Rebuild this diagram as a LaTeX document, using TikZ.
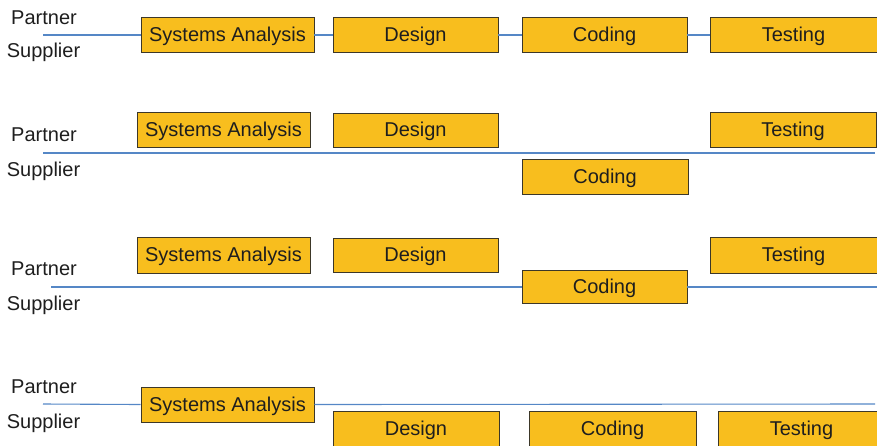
\documentclass[tikz,border=0pt]{standalone}
\usepackage{fontspec}
\setmainfont{Liberation Sans}
\definecolor{phase}{RGB}{248,190,30}
\definecolor{phaseedge}{RGB}{60,55,40}
\definecolor{wire}{RGB}{85,135,198}
\definecolor{ink}{RGB}{30,30,30}
\begin{document}
\begin{tikzpicture}[x=1pt,y=-1pt,
  phasebox/.style={draw=phaseedge,line width=0.9pt,fill=phase,text=ink,inner sep=0pt,
    minimum height=35pt,text height=17.4pt,text depth=4pt,font=\fontsize{20}{24}\selectfont},
  lane/.style={text=ink,inner sep=0pt,anchor=base,font=\fontsize{20}{24}\selectfont},
  link/.style={draw=wire,line width=1.1pt}]
\useasboundingbox (0,0) rectangle (877,445);

% lane labels, placed on their baselines
\foreach \r/\py/\sy in {1/24.3/57.3, 2/141.5/176, 3/275.8/310.5, 4/393.3/428}{
  \node[lane] (partner\r) at (44,\py) {Partner};
  \node[lane] (supplier\r) at (43.5,\sy) {Supplier};
}

% --- row 1: every phase on the partner/supplier boundary
\coordinate (s1) at (43,35);
\node[phasebox,minimum width=173pt] (sa1) at (227.5,35) {Systems Analysis};
\node[phasebox,minimum width=165pt] (de1) at (415.5,35) {Design};
\node[phasebox,minimum width=165pt] (co1) at (604.5,35) {Coding};
\node[phasebox,minimum width=167pt] (te1) at (793.5,35) {Testing};
\draw[link] (s1) -- (sa1.west);
\draw[link] (sa1.east) -- (de1.west);
\draw[link] (de1.east) -- (co1.west);
\draw[link] (co1.east) -- (te1.west);

% --- row 2: coding done by the supplier
\coordinate (s2) at (43,153);
\coordinate (e2) at (875,153);
\draw[link] (s2) -- (e2);
\node[phasebox,minimum width=173pt] (sa2) at (223.5,130) {Systems Analysis};
\node[phasebox,minimum width=165pt,minimum height=34pt] (de2) at (415.5,130) {Design};
\node[phasebox,minimum width=166pt] (te2) at (793,130) {Testing};
\node[phasebox,minimum width=166pt] (co2) at (605,176.5) {Coding};

% --- row 3: coding shared on the boundary
\coordinate (s3) at (51,287);
\coordinate (e3) at (877,287);
\node[phasebox,minimum width=173pt,minimum height=36pt] (sa3) at (223.5,255) {Systems Analysis};
\node[phasebox,minimum width=165pt,minimum height=34pt] (de3) at (415.5,255) {Design};
\node[phasebox,minimum width=167pt,minimum height=36pt] (te3) at (793.5,255) {Testing};
\node[phasebox,minimum width=165pt,minimum height=33pt] (co3) at (604.5,287) {Coding};
\draw[link] (s3) -- (co3.west);
\draw[link] (co3.east) -- (e3);

% --- row 4: only analysis on the boundary
\coordinate (s4) at (43,404);
\coordinate (e4) at (875,404);
\node[phasebox,minimum width=173pt] (sa4) at (227.5,404.5) {Systems Analysis};
\draw[link] (s4) -- (sa4.west);
\draw[link] (sa4.east) -- (e4);
\node[phasebox,minimum width=166pt] (de4) at (416,429) {Design};
\node[phasebox,minimum width=167pt] (co4) at (612.5,429) {Coding};
\node[phasebox,minimum width=167pt] (te4) at (801.5,429) {Testing};
\end{tikzpicture}
\end{document}
